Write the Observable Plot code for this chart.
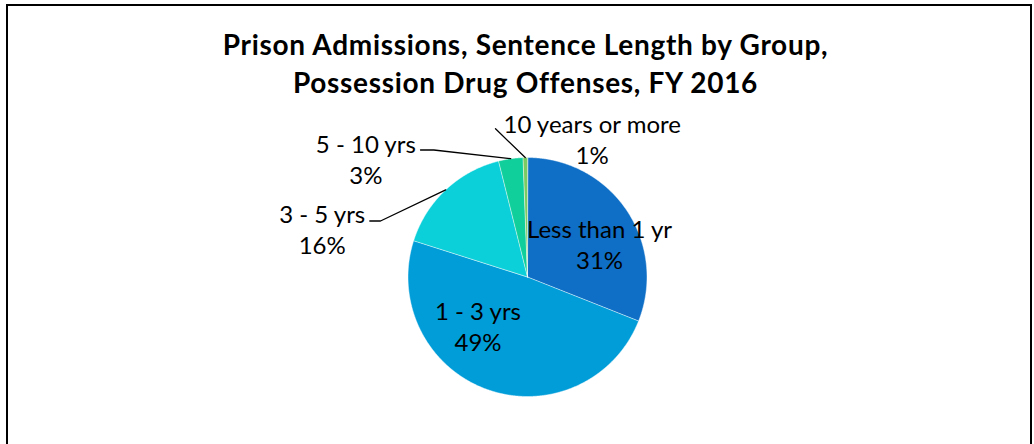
<!DOCTYPE html>
<html><head><meta charset="utf-8">
<script src="https://cdn.jsdelivr.net/npm/d3@7"></script>
<script src="https://cdn.jsdelivr.net/npm/@observablehq/plot@0.6"></script>
<style>
html,body{margin:0;padding:0;background:#fff;overflow:hidden;width:1034px;height:444px}
#wrap{position:relative;width:1034px;height:444px;overflow:hidden}
#chart{position:absolute;left:0;top:0}
#frame{position:absolute;left:6px;top:4px;width:1026px;height:520px;border:2px solid #000;box-sizing:border-box;pointer-events:none}
#title{position:absolute;left:0;top:25px;width:1051px;text-align:center;font-family:Lato,sans-serif;font-weight:bold;font-size:28px;letter-spacing:0.7px;line-height:38px;color:#000}
</style></head><body>
<div id="wrap"><div id="chart"></div><div id="frame"></div>
<div id="title">Prison Admissions, Sentence Length by Group,<br>Possession Drug Offenses, FY 2016</div></div>
<script>
// ---- data ----
const categories = ["Less than 1 yr", "1 - 3 yrs", "3 - 5 yrs", "5 - 10 yrs", "10 years or more"];
const shares = [31.0, 48.9, 16.2, 3.3, 0.6];
const pctLabels = ["31%", "49%", "16%", "3%", "1%"];
const colors = ["#0F6FC6", "#009DD9", "#0BD0D9", "#10CF9B", "#7CCA62"];

// ---- layout ----
const W = 1034, H = 520;
const cx = 527, cy = 276.5, R = 119.5;
const labelFont = 24, labelLine = 31.5;
// label centre x and first-line baseline (layout of Excel's placed labels)
const labelLayout = [
  {x: 599, base: 235},
  {x: 477.5, base: 316.7},
  {x: 321.7, base: 220},
  {x: 365.3, base: 150},
  {x: 591.7, base: 130}
];
// leader-line start points (label side); end points come from the slice arcs
const leaderStarts = [null, null, [[369.3, 220.5], [380, 220.5]], [[420, 149.5], [433.3, 149.5]], [[495, 128.3]]];

const arcs = d3.pie().sort(null).value(d => d)(shares);
const pt = (a, r) => [cx + r * Math.sin(a), cy - r * Math.cos(a)];

const slicePts = [];
arcs.forEach((a, i) => {
  const c = categories[i];
  slicePts.push({cat: c, x: cx, y: cy});
  const n = Math.max(2, Math.ceil((a.endAngle - a.startAngle) / 0.005));
  for (let k = 0; k <= n; ++k) {
    const t = a.startAngle + (a.endAngle - a.startAngle) * k / n;
    const [x, y] = pt(t, R);
    slicePts.push({cat: c, x, y});
  }
});

const leaderPts = [];
arcs.forEach((a, i) => {
  if (!leaderStarts[i]) return;
  const c = categories[i];
  leaderStarts[i].forEach(([x, y]) => leaderPts.push({cat: c, x, y}));
  const [x, y] = pt((a.startAngle + a.endAngle) / 2, R);
  leaderPts.push({cat: c, x, y});
});

// Plot's lineAnchor "middle" for 2 lines: first baseline = y - lineHeight/2 + 0.32em
const labels = categories.map((c, i) => ({
  x: labelLayout[i].x,
  y: labelLayout[i].base + labelLine / 2 - 0.32 * labelFont,
  text: c + "\n" + pctLabels[i]
}));

const chart = Plot.plot({
  width: W, height: H,
  margin: 0,
  x: {domain: [0, W], range: [0, W], axis: null},
  y: {domain: [0, H], range: [0, H], axis: null},
  color: {domain: categories, range: colors},
  style: {background: "transparent", overflow: "visible"},
  marks: [
    Plot.line(slicePts, {x: "x", y: "y", z: "cat", fill: "cat", stroke: "#ffffff", strokeWidth: 0.6, strokeOpacity: 0.8, curve: "linear-closed"}),
    Plot.line(leaderPts, {x: "x", y: "y", z: "cat", stroke: "#000", strokeWidth: 1.3}),
    Plot.text(labels, {x: "x", y: "y", text: "text", fontSize: labelFont, lineHeight: labelLine / labelFont,
      fontFamily: "Lato, sans-serif", fill: "#000", textAnchor: "middle", lineAnchor: "middle"})
  ]
});
document.getElementById("chart").appendChild(chart);
</script>
</body></html>
